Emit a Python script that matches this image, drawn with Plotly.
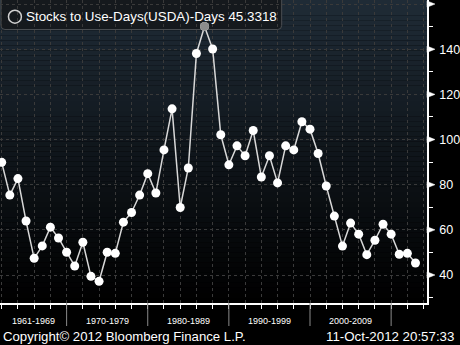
import plotly.graph_objects as go

# ---- data ----
years = list(range(1962, 2014))
stocks_days = [89.9, 75.4, 82.7, 63.9, 47.4, 52.9, 61.2, 56.4, 50.1, 44.0,
               54.5, 39.4, 37.2, 50.1, 49.6, 63.4, 67.7, 75.4, 84.9, 76.3,
               95.4, 113.6, 69.9, 87.4, 138.1, 150.1, 140.1, 102.1, 88.8, 97.2,
               92.8, 104.0, 83.4, 92.8, 80.8, 97.2, 95.4, 107.9, 104.6, 93.8,
               79.4, 66.1, 52.8, 63.0, 58.1, 49.0, 55.4, 62.5, 58.1, 49.2,
               49.6, 45.3318]
highlight_year = 1987
series_name = "Stocks to Use-Days(USDA)-Days"
last_value_text = "45.3318"
y_tickvals = [40, 60, 80, 100, 120, 140, 160]
y_ticktext = ["40", "60", "80", "100", "120", "140", ""]
y_minor = [30, 50, 70, 90, 110, 130, 150]
x_gridyears = list(range(1962, 2015, 2))
decade_bounds = [1970, 1980, 1990, 2000, 2010]
decade_labels = ["1961-1969", "1970-1979", "1980-1989", "1990-1999", "2000-2009"]
decade_label_x = [1965.9, 1975, 1985, 1995, 2005]

W, H = 460, 345
ML, MR, MT, MB = 0, 31, 0, 42
PW, PH = W - ML - MR, H - MT - MB
XR = [1961.79, 2014.42]
YR = [27.6, 161.8]

def px(x):
    return x / PW

def py(y):
    return 1 - y / PH

fig = go.Figure()

fig.add_trace(go.Scatter(
    x=years, y=stocks_days, mode="lines+markers",
    line=dict(color="#d8d8d8", width=1.5),
    marker=dict(color="white", size=9),
    hoverinfo="skip", showlegend=False))

hi = years.index(highlight_year)
fig.add_trace(go.Scatter(
    x=[years[hi]], y=[stocks_days[hi]], mode="markers",
    marker=dict(color="#8c8c8c", size=9),
    hoverinfo="skip", showlegend=False))

shapes = []
# gradient background
top = (31, 43, 54)
bot = (0, 0, 0)
n = 60
for i in range(n):
    t = i / (n - 1)
    c = tuple(round(top[k] + (bot[k] - top[k]) * t) for k in range(3))
    shapes.append(dict(type="rect", xref="paper", yref="paper",
                       x0=0, x1=1, y0=1 - (i + 1) / n, y1=1 - i / n,
                       fillcolor="rgb(%d,%d,%d)" % c, line=dict(width=0),
                       layer="below"))

# legend box (rounded)
bx0, bx1, by0, by1, r = 1, 283, -3, 29.5, 4
path = ("M {a},{b} L {c},{b} L {c},{d} Q {c},{e} {f},{e} L {g},{e} Q {a},{e} {a},{d} Z").format(
    a=px(bx0), b=py(by0), c=px(bx1), d=py(by1 - r), e=py(by1),
    f=px(bx1 - r), g=px(bx0 + r))
shapes.append(dict(type="path", xref="paper", yref="paper", path=path,
                   fillcolor="#15191d", line=dict(color="#4a4e52", width=1),
                   layer="between"))
# legend circle icon
shapes.append(dict(type="circle", xref="paper", yref="paper",
                   x0=px(8.5), x1=px(21.5), y0=py(23.2), y1=py(10.2),
                   line=dict(color="#d0d0d0", width=1.5),
                   fillcolor="rgba(0,0,0,0)", layer="between"))

# flags for major ticks on right axis
for v in y_tickvals:
    shapes.append(dict(type="path", xref="paper", yref="y",
                       path="M 1,{a} L 1,{b} L {c},{m} Z".format(
                           a=v + 1.4, b=v - 1.4, c=1 + 8 / PW, m=v),
                       fillcolor="white", line=dict(color="white", width=0.5),
                       layer="above"))

# decade separators
for yb in decade_bounds:
    shapes.append(dict(type="line", xref="x", yref="paper",
                       x0=yb, x1=yb, y0=0, y1=-23 / PH,
                       line=dict(color="#8a8a8a", width=1)))

annotations = []
annotations.append(dict(xref="paper", yref="paper", x=px(24), y=py(16.5),
                        xanchor="left", yanchor="middle", showarrow=False,
                        text=series_name + " " + last_value_text,
                        font=dict(family="Liberation Sans", size=13.4, color="white")))
for lab, xl in zip(decade_labels, decade_label_x):
    annotations.append(dict(xref="x", yref="paper", x=xl, y=1 - 321 / PH,
                            xanchor="center", yanchor="middle", showarrow=False,
                            text=lab, font=dict(family="Liberation Sans", size=9, color="white")))
annotations.append(dict(xref="paper", yref="paper", x=px(1), y=1 - 336 / PH,
                        xanchor="left", yanchor="middle", showarrow=False,
                        text="Copyright© 2012 Bloomberg Finance L.P.",
                        font=dict(family="Liberation Sans", size=13.2, color="white")))
annotations.append(dict(xref="paper", yref="paper", x=(458) / PW, y=1 - 336 / PH,
                        xanchor="right", yanchor="middle", showarrow=False,
                        text="11-Oct-2012 20:57:33",
                        font=dict(family="Liberation Sans", size=13.3, color="white")))

fig.update_layout(
    width=W, height=H,
    margin=dict(l=ML, r=MR, t=MT, b=MB, pad=0),
    paper_bgcolor="black", plot_bgcolor="black",
    shapes=shapes, annotations=annotations,
    showlegend=False,
    xaxis=dict(range=XR, tickvals=x_gridyears, showticklabels=False,
               ticks="outside", ticklen=4, tickcolor="white", tickwidth=1,
               showline=True, linecolor="white", linewidth=1.5,
               showgrid=True, gridcolor="#3a3a3a", gridwidth=1, griddash="3px,3px",
               zeroline=False, fixedrange=True),
    yaxis=dict(range=YR, side="right", tickvals=y_tickvals, ticktext=y_ticktext,
               ticks="outside", ticklen=8, tickcolor="rgba(0,0,0,0)",
               tickfont=dict(family="Liberation Sans", size=12.5, color="white"),
               showline=True, linecolor="white", linewidth=1.5,
               showgrid=True, gridcolor="#3a3a3a", gridwidth=1, griddash="3px,3px",
               zeroline=False, fixedrange=True,
               minor=dict(tickvals=y_minor, ticks="outside", ticklen=4,
                          tickcolor="white", showgrid=False)),
)

fig.write_html("out.html")
